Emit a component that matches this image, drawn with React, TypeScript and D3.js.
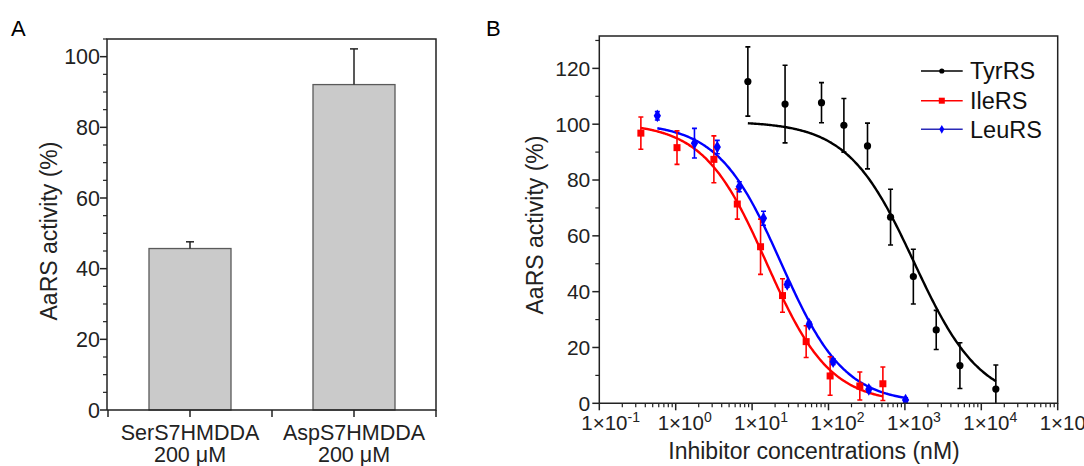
import React from "react";
import * as d3 from "d3";

// panel A
const barCategories = ["SerS7HMDDA", "AspS7HMDDA"];
const barSubLabels = ["200 μM", "200 μM"];
const barValues = [45.7, 92.1];
const barErrors = [1.9, 10.1];
const barTicksA = [0, 20, 40, 60, 80, 100];

// panel B
const seriesNames = ["TyrRS", "IleRS", "LeuRS"];
const seriesColors = ["#000000", "#ff0000", "#0000ff"];
const legendLineColors = ["#000000", "#ff0000", "#2a2ab8"];

const tyrConc = [8.8, 27, 81, 159, 324, 649, 1290, 2570, 5250, 15500];
const tyrActivity = [115.3, 107.2, 107.7, 99.6, 92.2, 66.7, 45.4, 26.3, 13.5, 5.1];
const tyrError = [12.4, 13.9, 7.2, 9.6, 8.2, 10, 9.8, 7, 8.2, 8.6];

const ileConc = [0.35, 1.04, 3.16, 6.4, 12.9, 25, 51, 105, 257, 515];
const ileActivity = [96.8, 91.6, 87.4, 71.4, 56.1, 38.6, 22.1, 9.8, 6.2, 7.0];
const ileError = [5.8, 6, 8.4, 5.4, 9.9, 6, 5.7, 6.9, 5, 6];

const leuConc = [0.575, 1.76, 3.5, 6.8, 14.1, 28.8, 56, 115, 337, 1020];
const leuActivity = [103, 93.2, 91.8, 77.6, 66.3, 42.6, 28.3, 14.9, 5.0, 1.2];
const leuError = [1.5, 5.3, 2.4, 1.8, 2.5, 1, 0.8, 1, 1, 0.8];

// dose-response fit parameters, same order as seriesNames
const fitTop = [101, 100.5, 100.5];
const fitBottom = [0, 0, 0];
const fitIC50 = [1320, 15.5, 24];
const fitHill = [1, 1.05, 1.05];

const xTickExponents = [-1, 0, 1, 2, 3, 4, 5];
const yTicksB = [0, 20, 40, 60, 80, 100, 120];

const FONT = "'Liberation Sans', Arial, Helvetica, sans-serif";

function PanelA() {
  const left = 107, right = 436, top = 39, bottom = 410;
  const x = d3.scaleBand().domain(barCategories).range([left + 1, right]).paddingInner(0.5).paddingOuter(0.25);
  const y = d3.scaleLinear().domain([0, 105]).range([bottom, top]);
  const bw = x.bandwidth();
  const centers = barCategories.map((c) => (x(c) as number) + bw / 2);
  const xTicks = [left + 1, ...centers, (centers[0] + centers[1]) / 2, right];
  const minor = d3.range(0, 106, 5).filter((v) => v % 20 !== 0);

  return (
    <g fontFamily={FONT}>
      <text x={11} y={36} fontSize={22}>A</text>
      {barCategories.map((c, i) => (
        <g key={c}>
          <rect
            x={x(c)}
            y={y(barValues[i])}
            width={bw}
            height={bottom - y(barValues[i])}
            fill="#cacaca"
            stroke="#5a5a5a"
            strokeWidth={1.3}
          />
          <line x1={centers[i]} x2={centers[i]} y1={y(barValues[i])} y2={y(barValues[i] + barErrors[i])} stroke="#222" strokeWidth={1.5} />
          <line x1={centers[i] - 4} x2={centers[i] + 4} y1={y(barValues[i] + barErrors[i])} y2={y(barValues[i] + barErrors[i])} stroke="#222" strokeWidth={1.5} />
        </g>
      ))}
      <path d={`M${left},${bottom}V${top}H${right}V${bottom}H${left}`} fill="none" stroke="#222" strokeWidth={1.5} />
      {barTicksA.map((t) => (
        <g key={t}>
          <line x1={left - 7} x2={left} y1={y(t)} y2={y(t)} stroke="#222" strokeWidth={1.5} />
          <text x={left - 7} y={y(t)} dy="0.35em" textAnchor="end" fontSize={21.5} fill="#222">{t}</text>
        </g>
      ))}
      {minor.map((t) => (
        <line key={t} x1={left - 4} x2={left} y1={y(t)} y2={y(t)} stroke="#222" strokeWidth={1.2} />
      ))}
      {xTicks.map((t, i) => (
        <line key={i} x1={t} x2={t} y1={bottom} y2={bottom + 7} stroke="#222" strokeWidth={1.5} />
      ))}
      {barCategories.map((c, i) => (
        <g key={c} fontSize={21.5} fill="#222" textAnchor="middle">
          <text x={centers[i]} y={440}>{c}</text>
          <text x={centers[i]} y={462}>{barSubLabels[i]}</text>
        </g>
      ))}
      <text transform={`translate(57,231) rotate(-90)`} textAnchor="middle" fontSize={23} fill="#222">AaRS activity (%)</text>
    </g>
  );
}

function PanelB() {
  const left = 599.3, right = 1057.7, top = 36, bottom = 403.3;
  const x = d3.scaleLog().domain([0.1, 1e5]).range([left, right]);
  const y = d3.scaleLinear().domain([0, 131.6]).range([bottom, top]);

  const series = [
    { conc: tyrConc, act: tyrActivity, err: tyrError },
    { conc: ileConc, act: ileActivity, err: ileError },
    { conc: leuConc, act: leuActivity, err: leuError },
  ];

  const minorX: number[] = [];
  xTickExponents.slice(0, -1).forEach((e) => {
    for (let m = 2; m <= 9; m++) minorX.push(m * Math.pow(10, e));
  });
  const minorY = d3.range(10, 131, 20);

  const line = d3.line<[number, number]>().x((d) => x(d[0])).y((d) => y(d[1])).curve(d3.curveBasis);
  const fitCurve = (i: number, conc: number[]) => {
    const lo = Math.log10(conc[0]);
    const hi = Math.log10(conc[conc.length - 1]);
    const pts: [number, number][] = d3.range(0, 201).map((k) => {
      const c = Math.pow(10, lo + ((hi - lo) * k) / 200);
      const v = fitBottom[i] + (fitTop[i] - fitBottom[i]) / (1 + Math.pow(c / fitIC50[i], fitHill[i]));
      return [c, v];
    });
    return line(pts) || "";
  };

  const marker = (i: number, cx: number, cy: number, small = false) => {
    const col = seriesColors[i];
    if (i === 0) return <circle cx={cx} cy={cy} r={small ? 2.6 : 3.6} fill={col} />;
    if (i === 1) {
      const s = small ? 6 : 7;
      return <rect x={cx - s / 2} y={cy - s / 2} width={s} height={s} fill={col} />;
    }
    const sym = d3.symbol().type(d3.symbolDiamond).size(small ? 22 : 46)();
    return <path d={sym || ""} transform={`translate(${cx},${cy})`} fill={col} />;
  };

  const legendY = [71, 100.7, 129.3];

  return (
    <g fontFamily={FONT}>
      <defs>
        <clipPath id="plotB">
          <rect x={left} y={top} width={right - left} height={bottom - top} />
        </clipPath>
      </defs>
      <text x={486} y={36} fontSize={22}>B</text>
      <g clipPath="url(#plotB)">
        {series.map((s, i) => (
          <path key={`fit-${i}`} d={fitCurve(i, s.conc)} fill="none" stroke={seriesColors[i]} strokeWidth={2.4} />
        ))}
        {series.map((s, i) =>
          s.conc.map((c, j) => {
            const cx = x(c);
            const y1 = y(s.act[j] + s.err[j]);
            const y2 = y(s.act[j] - s.err[j]);
            return (
              <g key={`pt-${i}-${j}`} stroke={seriesColors[i]} strokeWidth={1.6}>
                <line x1={cx} x2={cx} y1={y1} y2={y2} />
                <line x1={cx - 2.5} x2={cx + 2.5} y1={y1} y2={y1} />
                <line x1={cx - 2.5} x2={cx + 2.5} y1={y2} y2={y2} />
                <g stroke="none">{marker(i, cx, y(s.act[j]))}</g>
              </g>
            );
          })
        )}
      </g>
      <path d={`M${left},${bottom}V${top}H${right}V${bottom}H${left}`} fill="none" stroke="#222" strokeWidth={1.5} />
      {yTicksB.map((t) => (
        <g key={t}>
          <line x1={left - 7} x2={left} y1={y(t)} y2={y(t)} stroke="#222" strokeWidth={1.5} />
          <text x={left - 9} y={y(t)} dy="0.35em" textAnchor="end" fontSize={21} fill="#222">{t}</text>
        </g>
      ))}
      {minorY.map((t) => (
        <line key={t} x1={left - 4} x2={left} y1={y(t)} y2={y(t)} stroke="#222" strokeWidth={1.2} />
      ))}
      {xTickExponents.map((e) => {
        const tx = x(Math.pow(10, e));
        return (
          <g key={e}>
            <line x1={tx} x2={tx} y1={bottom} y2={bottom + 7} stroke="#222" strokeWidth={1.5} />
            <text x={tx - 18} y={430} fontSize={20.5} fill="#222">
              1×10<tspan dy={-8} fontSize={14}>{e}</tspan>
            </text>
          </g>
        );
      })}
      {minorX.map((t, k) => (
        <line key={k} x1={x(t)} x2={x(t)} y1={bottom} y2={bottom + 4} stroke="#222" strokeWidth={1.2} />
      ))}
      <text x={814} y={459} textAnchor="middle" fontSize={23} fill="#222">Inhibitor concentrations (nM)</text>
      <text transform={`translate(543,225) rotate(-90)`} textAnchor="middle" fontSize={23} fill="#222">AaRS activity (%)</text>
      {seriesNames.map((n, i) => (
        <g key={n}>
          <line x1={921} x2={962.7} y1={legendY[i]} y2={legendY[i]} stroke={legendLineColors[i]} strokeWidth={1.6} />
          {marker(i, 941.8, legendY[i], true)}
          <text x={970} y={legendY[i] + 8.3} fontSize={23.5} fill="#111">{n}</text>
        </g>
      ))}
    </g>
  );
}

export default function App() {
  return (
    <svg
      width={1084}
      height={466}
      style={{ position: "absolute", left: 0, top: 0, background: "#fff" }}
    >
      <PanelA />
      <PanelB />
    </svg>
  );
}
